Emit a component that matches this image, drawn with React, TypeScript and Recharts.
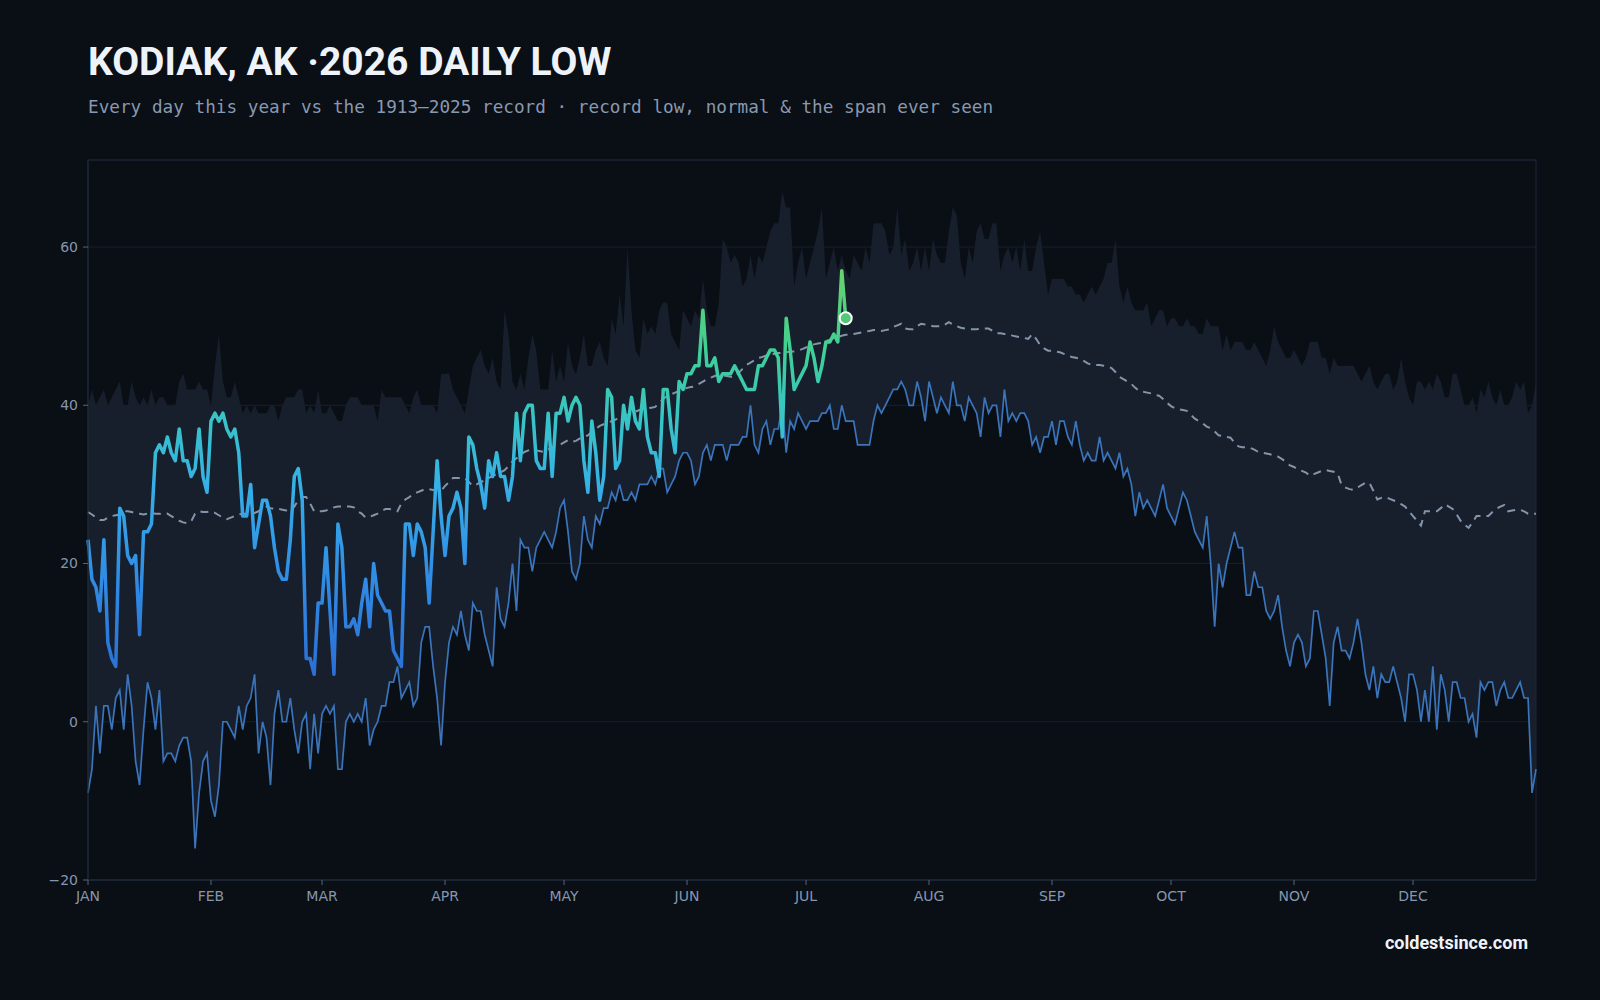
import {
  ComposedChart,
  Area,
  Line,
  XAxis,
  YAxis,
  CartesianGrid,
  ReferenceArea,
} from 'recharts';

// day-of-year offsets for the month ticks
const MONTH_TICKS = [0, 31, 59, 90, 120, 151, 181, 212, 243, 273, 304, 334];
const MONTH_LABELS = ['JAN', 'FEB', 'MAR', 'APR', 'MAY', 'JUN', 'JUL', 'AUG', 'SEP', 'OCT', 'NOV', 'DEC'];
const Y_TICKS = [-20, 0, 20, 40, 60];

// 1913–2025 record low for each day (°F)
const RECORD_LOW = [
  -9, -6, 2, -4, 2, 2, -1, 3, 4, -1,
  6, 2, -5, -8, -1, 5, 3, -1, 4, -5,
  -4, -4, -5, -3, -2, -2, -5, -16, -9, -5,
  -4, -10, -12, -8, 0, 0, -1, -2, 2, -1,
  2, 3, 6, -4, 0, -2, -8, 1, 4, 0,
  0, 3, -1, -4, 0, 1, -6, 1, -4, 1,
  2, 1, 2, -6, -6, 0, 1, 0, 1, 0,
  3, -3, -1, 0, 2, 2, 5, 5, 7, 3,
  4, 5, 2, 3, 10, 12, 12, 7, 3, -3,
  5, 10, 12, 11, 14, 11, 9, 15, 14, 14,
  11, 9, 7, 17, 13, 12, 15, 20, 14, 23,
  22, 22, 19, 22, 23, 24, 23, 22, 24, 27,
  28, 24, 19, 18, 20, 26, 23, 22, 26, 25,
  27, 27, 29, 28, 30, 28, 28, 29, 28, 30,
  30, 30, 31, 30, 32, 32, 29, 30, 31, 33,
  34, 34, 33, 30, 31, 34, 35, 33, 35, 35,
  35, 33, 35, 35, 35, 36, 36, 40, 35, 34,
  37, 38, 35, 37, 37, 40, 34, 38, 37, 39,
  38, 37, 38, 38, 38, 39, 39, 40, 37, 37,
  40, 38, 38, 38, 35, 35, 35, 35, 38, 40,
  39, 40, 41, 42, 42, 43, 42, 40, 40, 43,
  41, 38, 43, 41, 39, 41, 40, 39, 43, 40,
  40, 38, 41, 40, 39, 36, 41, 39, 40, 40,
  36, 42, 38, 39, 38, 39, 39, 38, 35, 36,
  34, 36, 36, 38, 35, 38, 38, 36, 35, 38,
  35, 33, 34, 33, 33, 36, 33, 34, 33, 32,
  34, 31, 32, 30, 26, 29, 27, 28, 27, 26,
  28, 30, 27, 26, 25, 27, 29, 28, 26, 24,
  23, 22, 26, 20, 12, 20, 17, 20, 22, 24,
  22, 22, 16, 16, 19, 17, 17, 14, 13, 14,
  16, 12, 9, 7, 10, 11, 10, 7, 8, 14,
  14, 11, 8, 2, 10, 12, 9, 9, 8, 10,
  13, 10, 6, 4, 7, 3, 6, 5, 5, 7,
  5, 3, 0, 6, 6, 4, 0, 4, 0, 7,
  -1, 6, 4, 0, 5, 5, 3, 3, 0, 1,
  -2, 5, 4, 5, 5, 2, 4, 5, 3, 3,
  4, 5, 3, 3, -9, -6,
];

// 1913–2025 record high of the daily low (°F)
const RECORD_HIGH = [
  40, 42, 40, 41, 42, 40, 41, 42, 43, 40,
  40, 43, 41, 40, 41, 40, 42, 40, 41, 41,
  40, 40, 40, 43, 44, 42, 42, 42, 43, 42,
  42, 40, 45, 49, 43, 41, 41, 43, 41, 39,
  40, 39, 40, 39, 39, 39, 40, 40, 38, 40,
  41, 41, 41, 42, 42, 39, 40, 39, 42, 39,
  39, 40, 39, 38, 38, 40, 41, 41, 41, 40,
  40, 40, 40, 38, 42, 41, 41, 41, 41, 41,
  40, 39, 41, 42, 40, 40, 40, 40, 39, 44,
  44, 44, 42, 41, 40, 39, 42, 45, 46, 47,
  45, 44, 46, 43, 42, 52, 49, 43, 42, 44,
  42, 46, 49, 47, 42, 42, 42, 47, 43, 45,
  43, 48, 45, 44, 46, 49, 45, 45, 47, 48,
  46, 45, 51, 49, 54, 50, 60, 52, 47, 46,
  51, 49, 50, 49, 52, 53, 53, 49, 48, 47,
  52, 51, 50, 52, 51, 56, 52, 50, 50, 53,
  61, 60, 58, 59, 58, 55, 56, 59, 56, 59,
  58, 60, 62, 63, 63, 67, 65, 65, 55, 58,
  60, 56, 58, 60, 62, 65, 56, 58, 60, 57,
  59, 57, 56, 59, 58, 57, 60, 58, 63, 63,
  63, 62, 59, 60, 65, 59, 61, 57, 58, 60,
  57, 60, 57, 61, 59, 58, 58, 62, 65, 64,
  58, 56, 60, 58, 62, 63, 61, 61, 63, 63,
  57, 59, 60, 58, 60, 57, 61, 57, 57, 60,
  62, 58, 54, 56, 56, 56, 56, 55, 55, 54,
  54, 53, 54, 55, 54, 55, 56, 58, 58, 61,
  55, 53, 55, 53, 52, 52, 52, 53, 50, 51,
  52, 52, 50, 51, 51, 50, 50, 51, 50, 50,
  49, 49, 51, 50, 50, 50, 47, 49, 47, 48,
  48, 48, 47, 47, 48, 47, 46, 45, 47, 50,
  48, 47, 46, 46, 47, 46, 45, 46, 48, 48,
  48, 46, 46, 44, 46, 45, 45, 45, 45, 45,
  44, 43, 44, 45, 43, 42, 43, 44, 44, 42,
  43, 46, 43, 41, 40, 43, 43, 42, 43, 42,
  44, 43, 41, 41, 44, 44, 42, 40, 40, 41,
  39, 42, 41, 43, 41, 40, 42, 40, 40, 41,
  43, 42, 43, 39, 40, 43,
];

// normal daily low (°F)
const NORMAL = [
  26.5, 26.2, 25.8, 25.5, 25.5, 25.8, 26.0, 26.1, 26.2, 26.6,
  26.6, 26.5, 26.4, 26.3, 26.2, 26.3, 26.4, 26.3, 26.3, 26.2,
  26.3, 26.0, 25.7, 25.4, 25.2, 25.1, 25.3, 26.3, 26.6, 26.5,
  26.5, 26.6, 26.4, 26.1, 25.8, 25.6, 25.8, 26.0, 26.2, 26.3,
  26.3, 26.4, 26.4, 26.6, 27.0, 27.2, 27.0, 26.9, 26.9, 26.8,
  26.7, 26.6, 27.2, 28.0, 28.4, 28.4, 27.6, 26.6, 26.6, 26.6,
  26.7, 26.9, 27.1, 27.2, 27.2, 27.2, 27.2, 27.1, 26.6, 26.3,
  25.8, 25.9, 26.1, 26.3, 26.6, 26.9, 26.9, 26.7, 26.6, 27.6,
  28.1, 28.4, 28.8, 29.0, 29.2, 29.4, 29.4, 29.3, 29.2, 29.2,
  29.8, 30.3, 30.8, 30.8, 30.8, 30.8, 30.3, 29.8, 30.0, 30.3,
  30.5, 30.8, 31.1, 31.3, 31.5, 31.8, 32.3, 32.9, 33.3, 33.7,
  34.1, 34.3, 34.4, 34.3, 34.2, 34.1, 34.4, 34.7, 35.0, 35.0,
  35.3, 35.6, 35.4, 35.5, 35.8, 36.0, 36.2, 36.6, 37.0, 37.4,
  37.6, 37.8, 38.0, 38.2, 38.5, 38.7, 38.8, 39.0, 39.2, 39.4,
  39.5, 39.6, 39.7, 39.8, 40.3, 40.8, 41.2, 41.4, 41.6, 41.8,
  42.0, 42.2, 42.3, 42.4, 42.7, 43.0, 43.3, 43.5, 43.7, 43.9,
  43.8, 43.7, 43.6, 43.6, 44.1, 44.6, 45.1, 45.4, 45.7, 46.0,
  46.1, 46.3, 46.4, 46.5, 46.6, 46.6, 46.7, 46.8, 46.8, 46.9,
  47.1, 47.3, 47.5, 47.7, 47.8, 47.9, 48.1, 48.3, 48.5, 48.6,
  48.8, 48.9, 48.9, 49.0, 49.1, 49.2, 49.3, 49.4, 49.5, 49.5,
  49.4, 49.5, 49.6, 49.9, 50.1, 50.3, 49.7, 49.6, 49.6, 50.0,
  50.3, 50.2, 50.1, 50.0, 50.0, 50.0, 50.2, 50.5, 50.2, 50.0,
  49.8, 49.7, 49.6, 49.6, 49.6, 49.7, 49.7, 49.7, 49.4, 49.1,
  49.1, 49.0, 49.0, 48.8, 48.7, 48.6, 48.5, 48.4, 49.0, 48.4,
  47.6, 47.2, 46.9, 46.9, 46.8, 46.7, 46.5, 46.3, 46.1, 46.0,
  45.9, 45.6, 45.3, 45.1, 45.1, 45.1, 45.0, 44.9, 44.7, 44.2,
  43.6, 43.3, 43.0, 42.7, 42.2, 41.8, 41.7, 41.6, 41.5, 41.3,
  41.2, 40.8, 40.3, 39.9, 39.6, 39.5, 39.4, 39.3, 38.8, 38.3,
  38.0, 37.7, 37.3, 37.1, 36.7, 36.2, 36.1, 36.0, 35.9, 35.3,
  34.8, 34.7, 34.7, 34.6, 34.4, 34.1, 34.0, 33.9, 33.8, 33.6,
  33.5, 33.2, 32.8, 32.4, 32.2, 31.9, 31.7, 31.5, 31.1, 31.3,
  31.5, 31.7, 31.8, 31.7, 31.6, 31.4, 29.9, 29.6, 29.4, 29.3,
  29.6, 29.9, 30.2, 30.2, 29.2, 28.1, 28.3, 28.4, 28.2, 28.0,
  27.8, 27.5, 27.2, 26.6, 26.0, 25.4, 24.8, 26.6, 26.6, 26.6,
  26.6, 27.0, 27.5, 27.2, 26.9, 26.2, 25.4, 24.9, 24.5, 25.2,
  26.0, 26.0, 26.0, 26.0, 26.5, 26.9, 27.2, 27.4, 26.6, 26.7,
  26.8, 26.8, 26.6, 26.3, 26.3, 26.3,
];

// 2026 daily low so far (°F)
const THIS_YEAR = [
  23, 18, 17, 14, 23, 10, 8, 7, 27, 26,
  21, 20, 21, 11, 24, 24, 25, 34, 35, 34,
  36, 34, 33, 37, 33, 33, 31, 32, 37, 31,
  29, 38, 39, 38, 39, 37, 36, 37, 34, 26,
  26, 30, 22, 25, 28, 28, 26, 22, 19, 18,
  18, 23, 31, 32, 28, 8, 8, 6, 15, 15,
  22, 14, 6, 25, 22, 12, 12, 13, 11, 15,
  18, 12, 20, 16, 15, 14, 14, 9, 8, 7,
  25, 25, 21, 25, 24, 22, 15, 24, 33, 26,
  21, 26, 27, 29, 27, 20, 36, 35, 32, 30,
  27, 33, 31, 34, 31, 31, 28, 31, 39, 33,
  39, 40, 40, 33, 32, 32, 39, 31, 39, 39,
  41, 38, 40, 41, 40, 33, 29, 38, 34, 28,
  31, 42, 41, 32, 33, 40, 37, 41, 38, 37,
  42, 36, 34, 34, 31, 42, 42, 37, 34, 43,
  42, 44, 44, 45, 45, 52, 45, 45, 46, 43,
  44, 44, 44, 45, 44, 43, 42, 42, 42, 45,
  45, 46, 47, 47, 46, 36, 51, 47, 42, 43,
  44, 45, 48, 46, 43, 45, 48, 48, 49, 48,
  57, 51,
];

const rows = RECORD_LOW.map((low, day) => ({
  day,
  low,
  high: RECORD_HIGH[day],
  band: [low, RECORD_HIGH[day]],
  normal: NORMAL[day],
  ...(day < THIS_YEAR.length ? { year: THIS_YEAR[day] } : {}),
}));

const axisTick = { fill: '#8597ae', fontSize: 14, fontFamily: 'DejaVu Sans' };

const EndDot = (props: any) => {
  const { cx, cy, index } = props;
  if (index !== THIS_YEAR.length - 1) return <g key={`d-${index}`} />;
  return (
    <circle
      key={`d-${index}`}
      cx={cx}
      cy={cy}
      r={6}
      fill="#52c878"
      stroke="#ffffff"
      strokeWidth={2}
    />
  );
};

export default function App() {
  return (
    <div
      style={{
        position: 'fixed',
        top: 0,
        left: 0,
        width: 1600,
        height: 1000,
        background: '#0a0e15',
        overflow: 'hidden',
      }}
    >
      <ComposedChart
        width={1600}
        height={1000}
        data={rows}
        margin={{ top: 160, right: 64, bottom: 90, left: 28 }}
        style={{ position: 'absolute', top: 0, left: 0 }}
      >
        <defs>
          <linearGradient id="yearGrad" x1="0" y1="0" x2="0" y2="1">
            <stop offset="0" stopColor="#66d46a" />
            <stop offset="0.2" stopColor="#3fcf96" />
            <stop offset="0.37" stopColor="#38c4c8" />
            <stop offset="0.53" stopColor="#36b0e6" />
            <stop offset="0.73" stopColor="#3190e6" />
            <stop offset="1" stopColor="#2c6fd6" />
          </linearGradient>
        </defs>
        <Area
          dataKey="band"
          type="linear"
          stroke="none"
          fill="#161f2b"
          fillOpacity={1}
          dot={false}
          activeDot={false}
          isAnimationActive={false}
        />
        <CartesianGrid vertical={false} stroke="#172130" />
        <XAxis
          dataKey="day"
          type="number"
          domain={[0, 365]}
          ticks={MONTH_TICKS}
          tickFormatter={(v) => MONTH_LABELS[MONTH_TICKS.indexOf(v)]}
          tick={axisTick}
          tickSize={5}
          tickMargin={6}
          tickLine={{ stroke: '#56667c' }}
          axisLine={{ stroke: '#1e2a3a' }}
          height={30}
          interval={0}
        />
        <YAxis
          type="number"
          domain={[-20, 71]}
          ticks={Y_TICKS}
          tickFormatter={(v) => String(v).replace('-', '\u2212')}
          tick={axisTick}
          tickSize={5}
          tickMargin={5}
          tickLine={{ stroke: '#56667c' }}
          axisLine={{ stroke: '#1e2a3a' }}
          width={60}
          interval={0}
        />
        <ReferenceArea
          x1={0}
          x2={365}
          y1={-20}
          y2={71}
          fill="none"
          fillOpacity={0}
          stroke="#1c2737"
          strokeWidth={1}
          ifOverflow="visible"
        />
        <Line
          dataKey="normal"
          type="linear"
          stroke="#8494aa"
          strokeWidth={2}
          strokeDasharray="8 6"
          dot={false}
          activeDot={false}
          isAnimationActive={false}
        />
        <Line
          dataKey="low"
          type="linear"
          stroke="#3a74bb"
          strokeWidth={1.7}
          dot={false}
          activeDot={false}
          isAnimationActive={false}
        />
        <Line
          dataKey="year"
          type="linear"
          stroke="url(#yearGrad)"
          strokeWidth={3.5}
          strokeLinejoin="round"
          dot={EndDot}
          activeDot={false}
          isAnimationActive={false}
        />
      </ComposedChart>

      <div
        style={{
          position: 'absolute',
          left: 88,
          top: 43,
          fontFamily: 'Roboto, sans-serif',
          fontWeight: 700,
          fontSize: 39,
          lineHeight: '39px',
          color: '#eef3fa',
          whiteSpace: 'nowrap',
        }}
      >
        KODIAK, AK ·2026 DAILY LOW
      </div>
      <div
        style={{
          position: 'absolute',
          left: 88,
          top: 99,
          fontFamily: '"DejaVu Sans Mono", monospace',
          fontSize: 17.7,
          lineHeight: '17.7px',
          color: '#8899b0',
          whiteSpace: 'nowrap',
        }}
      >
        Every day this year vs the 1913–2025 record · record low, normal &amp; the span ever seen
      </div>
      <div
        style={{
          position: 'absolute',
          right: 72,
          top: 934,
          fontFamily: 'Roboto, sans-serif',
          fontWeight: 700,
          fontSize: 18,
          lineHeight: '18px',
          color: '#eef3fa',
          whiteSpace: 'nowrap',
        }}
      >
        coldestsince.com
      </div>
    </div>
  );
}
